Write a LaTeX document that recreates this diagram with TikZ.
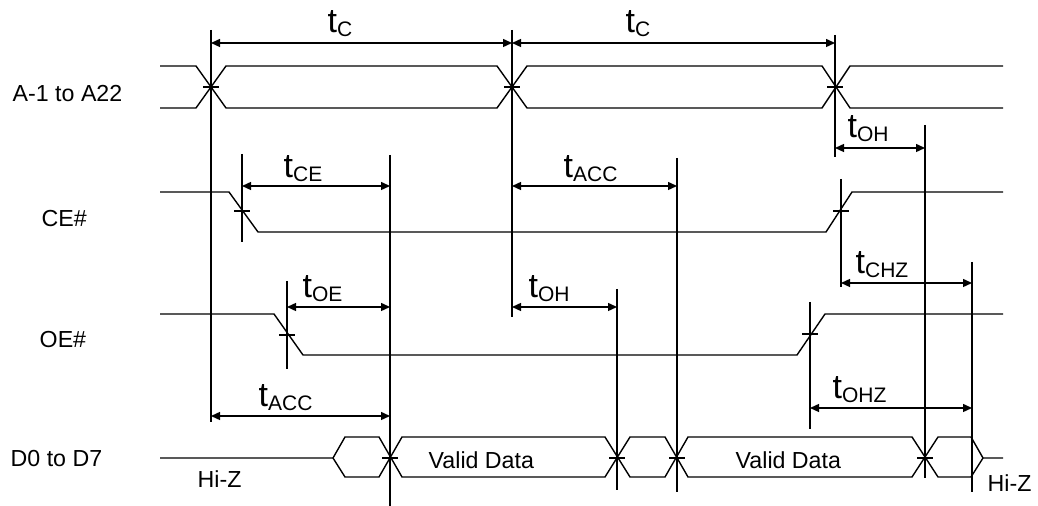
\documentclass[tikz,border=0pt]{standalone}
\usepackage{fontspec}
\setmainfont{Liberation Sans}
\usepackage{tikz}
\usetikzlibrary{arrows.meta}
\newcommand{\tsub}[1]{{\fontsize{17}{20}\selectfont t}\raisebox{-1.8pt}{\fontsize{10.5}{12}\selectfont #1}}

\begin{document}
\begin{tikzpicture}[x=0.5pt,y=-0.5pt,line width=0.7pt,
  dim/.style={{Triangle[length=4.5pt,width=4pt]}-{Triangle[length=4.5pt,width=4pt]}},
  sig/.style={anchor=base west,inner sep=0pt,font=\fontsize{11.6}{14}\selectfont},
  tlab/.style={anchor=base west,inner sep=0pt}]
\useasboundingbox (0,0) rectangle (1038,506);
% signal names
\node[sig] (addr) at (12,102) {A-1 to A22};
\node[sig] (ce) at (41,227) {CE\#};
\node[sig] (oe) at (39,348) {OE\#};
\node[sig] (data) at (10,467) {D0 to D7};
% address bus
\draw (160,66)--(196,66)--(226,108)--(497,108)--(527,66)--(822,66)--(850,108)--(1003,108);
\draw (160,108)--(196,108)--(226,66)--(497,66)--(527,108)--(822,108)--(850,66)--(1003,66);
% CE# and OE#
\draw (160,192)--(229,192)--(258,232)--(826,232)--(852,192)--(1003,192);
\draw (160,314)--(274,314)--(303,355)--(797,355)--(825,314)--(1003,314);
% data bus
\draw (160,458)--(333,458)--(345,437)--(379,437)--(402,477)--(605,477)--(630,437)--(665,437)--(688,477)--(912,477)--(938,437)--(971,437)--(983,458)--(1003,458);
\draw (333,458)--(345,477)--(379,477)--(402,437)--(605,437)--(630,477)--(665,477)--(688,437)--(912,437)--(938,477)--(971,477)--(983,458);
\node[sig] (valid1) at (428,469) {Valid Data};
\node[sig] (valid2) at (735,469) {Valid Data};
\node[sig] (hiz1) at (197,488) {Hi-Z};
\node[sig] (hiz2) at (987,492) {Hi-Z};
% guide lines
\draw (211,30)--(211,422);
\draw (512,30)--(512,317);
\draw (835,35)--(835,157);
\draw (242,154)--(242,242);
\draw (390,155)--(390,506);
\draw (287,281)--(287,369);
\draw (617,289)--(617,490);
\draw (677,158)--(677,492);
\draw (841,179)--(841,287);
\draw (925,125)--(925,478);
\draw (810,302)--(810,429);
\draw (972,262)--(972,492);
% crossing ticks
\draw (203,87)--(219,87);
\draw (504,87)--(520,87);
\draw (827,87)--(843,87);
\draw (234,211)--(250,211);
\draw (833,211)--(849,211);
\draw (279,335)--(295,335);
\draw (802,334)--(818,334);
\draw (382,458)--(398,458);
\draw (609,458)--(625,458);
\draw (669,458)--(685,458);
\draw (917,458)--(933,458);
% timing arrows
\draw[dim] (211,43)--(512,43);
\node[tlab] (tc1) at (327,33) {\tsub{C}};
\draw[dim] (512,43)--(835,43);
\node[tlab] (tc2) at (625,33) {\tsub{C}};
\draw[dim] (835,148)--(925,148);
\node[tlab] (toh1) at (847,138) {\tsub{OH}};
\draw[dim] (242,186)--(390,186);
\node[tlab] (tce) at (283,178) {\tsub{CE}};
\draw[dim] (512,186)--(677,186);
\node[tlab] (tacc1) at (563,178) {\tsub{ACC}};
\draw[dim] (287,307)--(390,307);
\node[tlab] (toe) at (302,298) {\tsub{OE}};
\draw[dim] (512,307)--(617,307);
\node[tlab] (toh2) at (528,298) {\tsub{OH}};
\draw[dim] (841,283)--(972,283);
\node[tlab] (tchz) at (855,274) {\tsub{CHZ}};
\draw[dim] (211,416)--(390,416);
\node[tlab] (tacc2) at (258,407) {\tsub{ACC}};
\draw[dim] (810,408)--(972,408);
\node[tlab] (tohz) at (832,399) {\tsub{OHZ}};
\end{tikzpicture}
\end{document}
